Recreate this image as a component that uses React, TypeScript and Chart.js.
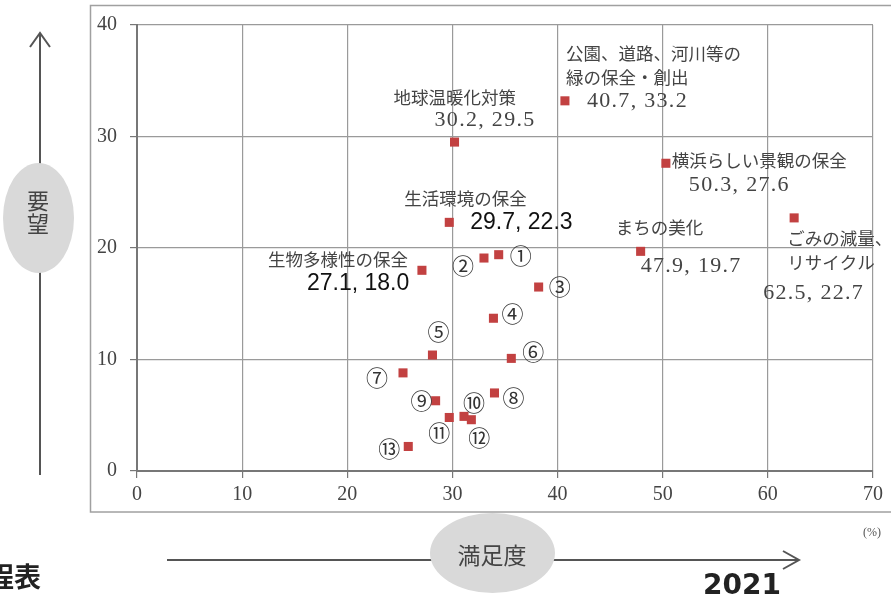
import React, { useEffect, useRef } from "react";
import { Chart, registerables } from "chart.js";

Chart.register(...registerables);

// Named items (satisfaction %, demand %)
const mainNames = [
  ["公園、道路、河川等の", "緑の保全・創出"],
  ["地球温暖化対策"],
  ["生活環境の保全"],
  ["横浜らしい景観の保全"],
  ["まちの美化"],
  ["ごみの減量、", "リサイクル"],
  ["生物多様性の保全"],
];
const mainSatisfaction = [40.7, 30.2, 29.7, 50.3, 47.9, 62.5, 27.1];
const mainDemand = [33.2, 29.5, 22.3, 27.6, 19.7, 22.7, 18.0];

// Numbered items
const numLabels = ["①", "②", "③", "④", "⑤", "⑥", "⑦", "⑧", "⑨", "⑩", "⑪", "⑫", "⑬"];
const numSatisfaction = [34.4, 33.0, 38.2, 33.9, 28.1, 35.6, 25.3, 34.0, 28.4, 31.1, 29.7, 31.8, 25.8];
const numDemand = [19.4, 19.1, 16.5, 13.7, 10.4, 10.1, 8.8, 7.0, 6.3, 4.9, 4.8, 4.6, 2.2];

const xTicks = [0, 10, 20, 30, 40, 50, 60, 70];
const yTicks = [0, 10, 20, 30, 40];

const xAxisTitle = "満足度";
const yAxisTitle = ["要", "望"];
const unitLabel = "(%)";
const yearLabel = "2021";
const cornerLabel = "程表";

// label placement (pixel offsets from the marker): name lines, value text
const mainLayout = [
  { names: [[1, -47], [1, -23]], value: [22, 0], sans: false },
  { names: [[-61, -45]], value: [-20, -22], sans: false },
  { names: [[-45, -24]], value: [21, 0], sans: true },
  { names: [[6, -3]], value: [23, 22], sans: false },
  { names: [[-25, -24]], value: [0, 15], sans: false },
  { names: [[-7, 20], [-7, 44]], value: [-31, 75], sans: false },
  { names: [[-154, -11]], value: [-115, 13], sans: true },
];
const numLayout = [
  [22, 1], [-21, 8], [21, 0], [19, -5], [6, -23], [22, -7], [-26, 5],
  [19, 5], [-14, 0], [10, -14], [-10, 15], [8, 18], [-19, 2],
];

const JP = '"Noto Sans CJK JP"';

const decorPlugin = {
  id: "decor",
  beforeDraw(chart: any) {
    const ctx = chart.ctx;
    ctx.save();
    ctx.strokeStyle = "#a0a0a0";
    ctx.lineWidth = 1.5;
    ctx.strokeRect(90.5, 5.5, 830, 506.5);
    ctx.restore();
  },
  afterDraw(chart: any) {
    const ctx = chart.ctx;
    const xs = chart.scales.x;
    const ys = chart.scales.y;
    ctx.save();

    // labels for named items
    ctx.textBaseline = "middle";
    ctx.textAlign = "left";
    mainNames.forEach((lines, i) => {
      const px = xs.getPixelForValue(mainSatisfaction[i]);
      const py = ys.getPixelForValue(mainDemand[i]);
      const lay = mainLayout[i];
      ctx.fillStyle = "#444";
      ctx.font = `17.5px ${JP}`;
      (ctx as any).letterSpacing = "0px";
      lines.forEach((t, j) => {
        ctx.fillText(t, px + lay.names[j][0], py + lay.names[j][1]);
      });
      const val = `${mainSatisfaction[i].toFixed(1)}, ${mainDemand[i].toFixed(1)}`;
      if (lay.sans) {
        ctx.fillStyle = "#111";
        ctx.font = '23px "Liberation Sans"';
        (ctx as any).letterSpacing = "0px";
      } else {
        ctx.fillStyle = "#444";
        ctx.font = '22px "Liberation Serif"';
        (ctx as any).letterSpacing = "1.3px";
      }
      ctx.fillText(val, px + lay.value[0], py + lay.value[1]);
    });
    (ctx as any).letterSpacing = "0px";

    // circled numbers
    ctx.textAlign = "center";
    ctx.fillStyle = "#333";
    ctx.font = `22px ${JP}`;
    numLabels.forEach((t, i) => {
      const px = xs.getPixelForValue(numSatisfaction[i]);
      const py = ys.getPixelForValue(numDemand[i]);
      ctx.fillText(t, px + numLayout[i][0], py + numLayout[i][1]);
    });

    // vertical arrow (demand)
    ctx.strokeStyle = "#555";
    ctx.lineWidth = 2;
    ctx.beginPath();
    ctx.moveTo(40, 33);
    ctx.lineTo(40, 475);
    ctx.stroke();
    ctx.beginPath();
    ctx.moveTo(30, 47);
    ctx.lineTo(40, 33);
    ctx.lineTo(50, 47);
    ctx.stroke();
    ctx.fillStyle = "#d9d9d9";
    ctx.beginPath();
    ctx.ellipse(38.5, 218, 35.5, 55, 0, 0, Math.PI * 2);
    ctx.fill();
    ctx.fillStyle = "#444";
    ctx.font = `22px ${JP}`;
    ctx.fillText(yAxisTitle[0], 38, 201);
    ctx.fillText(yAxisTitle[1], 38, 224);

    // horizontal arrow (satisfaction)
    ctx.strokeStyle = "#555";
    ctx.lineWidth = 2;
    ctx.beginPath();
    ctx.moveTo(167, 560);
    ctx.lineTo(799, 560);
    ctx.stroke();
    ctx.beginPath();
    ctx.moveTo(783, 551);
    ctx.lineTo(799, 560);
    ctx.lineTo(783, 569);
    ctx.stroke();
    ctx.fillStyle = "#d9d9d9";
    ctx.beginPath();
    ctx.ellipse(492.5, 553, 62.5, 40, 0, 0, Math.PI * 2);
    ctx.fill();
    ctx.fillStyle = "#444";
    ctx.font = `23px ${JP}`;
    ctx.fillText(xAxisTitle, 492, 555);

    // unit
    ctx.font = '12px "Liberation Serif"';
    ctx.fillStyle = "#555";
    ctx.fillText(unitLabel, 872, 533);

    // year & corner text
    ctx.textBaseline = "alphabetic";
    ctx.fillStyle = "#222";
    ctx.font = 'bold 28px "DejaVu Sans"';
    ctx.textAlign = "left";
    ctx.fillText(yearLabel, 703, 594);
    ctx.textAlign = "right";
    ctx.font = `bold 27px ${JP}`;
    ctx.fillText(cornerLabel, 41, 587);

    ctx.restore();
  },
};

export default function App() {
  const ref = useRef<HTMLCanvasElement>(null);
  useEffect(() => {
    document.body.style.margin = "0";
    const canvas = ref.current!;
    const serifTick = { family: '"Liberation Serif"', size: 20 };
    const chart = new Chart(canvas, {
      type: "scatter",
      data: {
        datasets: [
          {
            label: "main",
            data: mainSatisfaction.map((x, i) => ({ x, y: mainDemand[i] })),
            backgroundColor: "#c24141",
            borderColor: "#c24141",
            pointStyle: "rect",
            pointRadius: 6.4,
            borderWidth: 0,
          },
          {
            label: "numbered",
            data: numSatisfaction.map((x, i) => ({ x, y: numDemand[i] })),
            backgroundColor: "#c24141",
            borderColor: "#c24141",
            pointStyle: "rect",
            pointRadius: 6.4,
            borderWidth: 0,
          },
        ],
      },
      options: {
        responsive: false,
        animation: false,
        layout: { padding: { left: 90, right: 18, top: 17, bottom: 84 } },
        plugins: { legend: { display: false }, tooltip: { enabled: false } },
        scales: {
          x: {
            type: "linear",
            min: xTicks[0],
            max: xTicks[xTicks.length - 1],
            afterBuildTicks: (s: any) => {
              s.ticks = xTicks.map((v) => ({ value: v }));
            },
            afterFit: (s: any) => {
              s.height = 40;
            },
            ticks: { font: serifTick, color: "#444", padding: 5, maxRotation: 0 },
            grid: { color: "#9a9a9a", lineWidth: 1.2, tickLength: 7, tickColor: "#777" },
            border: { color: "#777", width: 2 },
          },
          y: {
            type: "linear",
            min: yTicks[0],
            max: yTicks[yTicks.length - 1],
            afterBuildTicks: (s: any) => {
              s.ticks = yTicks.map((v) => ({ value: v }));
            },
            afterFit: (s: any) => {
              s.width = 47;
            },
            ticks: { font: serifTick, color: "#444", padding: 13 },
            grid: { color: "#9a9a9a", lineWidth: 1.2, tickLength: 7, tickColor: "#777" },
            border: { color: "#777", width: 2 },
          },
        },
      },
      plugins: [decorPlugin],
    } as any);
    return () => chart.destroy();
  }, []);
  return (
    <div style={{ position: "absolute", left: 0, top: 0, width: 891, height: 595, background: "#fff" }}>
      <canvas ref={ref} width={891} height={595} style={{ display: "block" }} />
    </div>
  );
}
